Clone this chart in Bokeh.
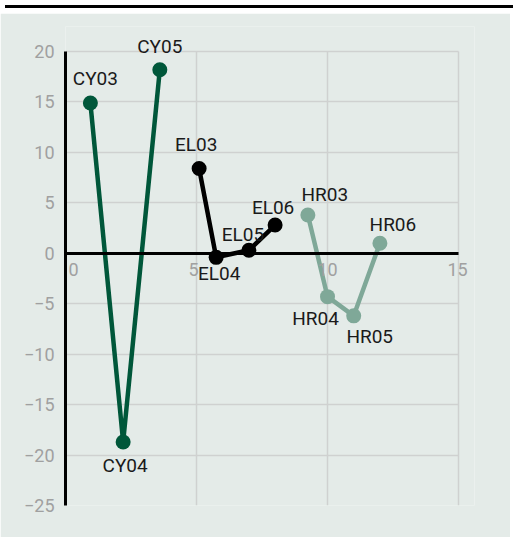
from bokeh.plotting import figure
from bokeh.models import ColumnDataSource, FixedTicker, Div, Range1d, LabelSet
from bokeh.layouts import column
from bokeh.core.properties import value
from bokeh.embed import file_html
from bokeh.resources import INLINE

# --- data ---
cy_labels = ["CY03", "CY04", "CY05"]
cy_x = [0.95, 2.2, 3.6]
cy_y = [14.9, -18.7, 18.2]

el_labels = ["EL03", "EL04", "EL05", "EL06"]
el_x = [5.1, 5.75, 7.0, 8.0]
el_y = [8.4, -0.4, 0.3, 2.8]

hr_labels = ["HR03", "HR04", "HR05", "HR06"]
hr_x = [9.25, 10.0, 11.0, 12.0]
hr_y = [3.8, -4.3, -6.2, 1.0]

x_ticks = [0, 5, 10, 15]
x_tick_labels = ["0", "5", "10", "15"]
y_ticks = [-25, -20, -15, -10, -5, 0, 5, 10, 15, 20]
y_tick_labels = ["\u221225", "\u221220", "\u221215", "\u221210", "\u22125", "0", "5", "10", "15", "20"]

# label offsets in screen pixels (layout only; +y = up)
cy_off = ([5, 2, 0], [24, -24, 23])
el_off = ([-3, 3, -6, -2], [24, -16, 16, 18])
hr_off = ([17, -12, 16, 13], [20, -22, -21, 19])
xt_off = ([8, -3, 0, -1], [-16, -16, -16, -16])

PANEL = "#e4ebe8"
FONT = "Roboto"

# frame extends a little past the data area (top and right) so labels are not clipped
p = figure(frame_width=409, frame_height=479, output_backend="svg", toolbar_location=None,
           x_range=Range1d(0, 15.61), y_range=Range1d(-25, 22.48),
           min_border_left=65, min_border_right=36, min_border_top=13, min_border_bottom=32)
p.background_fill_color = PANEL
p.border_fill_color = PANEL
p.outline_line_color = None

p.xgrid.ticker = FixedTicker(ticks=x_ticks)
p.ygrid.ticker = FixedTicker(ticks=y_ticks)
p.xgrid[0].cross_bounds = (-25, 20)
p.ygrid[0].cross_bounds = (0, 15)
for g in (p.xgrid[0], p.ygrid[0]):
    g.grid_line_color = "#cfd1d0"
    g.grid_line_width = 1.5

# y axis
ya = p.yaxis[0]
ya.ticker = FixedTicker(ticks=y_ticks)
ya.bounds = (-25, 20)
ya.major_label_overrides = {t: l for t, l in zip(y_ticks, y_tick_labels)}
ya.axis_line_color = "black"
ya.axis_line_width = 3
ya.major_tick_line_color = None
ya.minor_tick_line_color = None
ya.major_tick_out = 0
ya.major_tick_in = 0
ya.minor_tick_out = 0
ya.major_label_standoff = 11
ya.major_label_text_color = "#a0a0a0"
ya.major_label_text_font = FONT
ya.major_label_text_font_size = "18px"

# x axis line drawn at y = 0
xa = p.xaxis[0]
xa.fixed_location = 0
xa.bounds = (0, 15)
xa.ticker = FixedTicker(ticks=x_ticks)
xa.axis_line_color = "black"
xa.axis_line_width = 3
xa.major_tick_line_color = None
xa.minor_tick_line_color = None
xa.major_label_text_color = None

xt_src = ColumnDataSource(dict(x=x_ticks, y=[0] * len(x_ticks), label=x_tick_labels,
                               dx=xt_off[0], dy=xt_off[1]))
p.add_layout(LabelSet(x="x", y="y", text="label", source=xt_src, x_offset="dx", y_offset="dy",
                      text_align="center", text_baseline="middle", text_color="#a0a0a0",
                      text_font=value(FONT), text_font_size=value("18px")))


def series(xs, ys, labels, off, color):
    src = ColumnDataSource(dict(x=xs, y=ys, label=labels, dx=off[0], dy=off[1]))
    p.line("x", "y", source=src, line_color=color, line_width=4.5)
    p.scatter("x", "y", source=src, size=15, fill_color=color, line_color=None)
    p.add_layout(LabelSet(x="x", y="y", text="label", source=src, x_offset="dx", y_offset="dy",
                          text_align="center", text_baseline="middle", text_color="#1a1a1a",
                          text_font=value(FONT), text_font_size=value("19px")))


series(cy_x, cy_y, cy_labels, cy_off, "#00573a")
series(el_x, el_y, el_labels, el_off, "#000000")
series(hr_x, hr_y, hr_labels, hr_off, "#7fa898")

top_line = Div(text="", width=510, height=3, styles={"background-color": "black"})
layout = column(top_line, p, spacing=0)

open("out.html", "w").write(file_html(layout, INLINE))
